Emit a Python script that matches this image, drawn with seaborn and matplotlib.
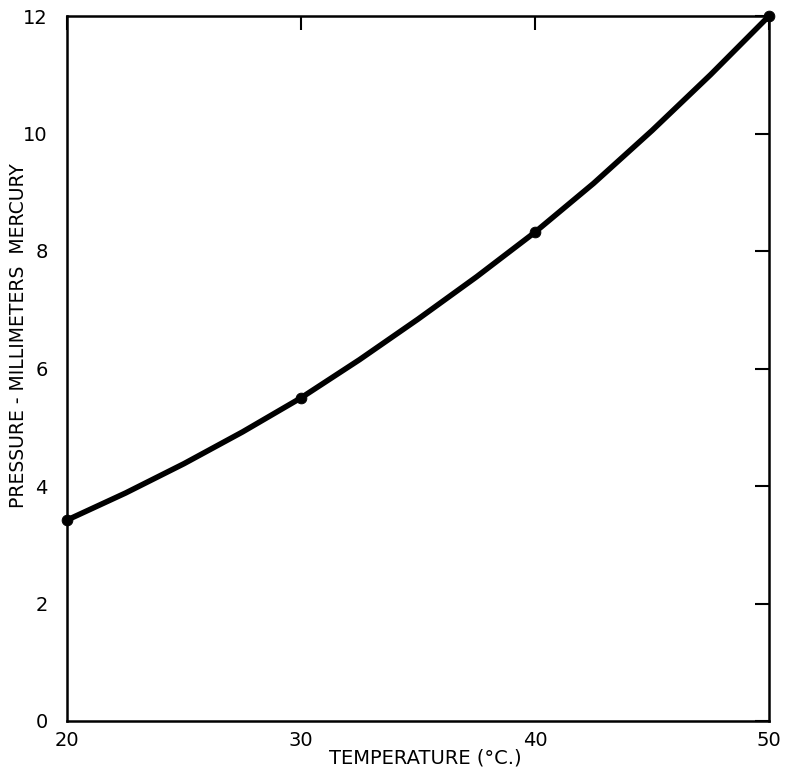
import matplotlib
matplotlib.use("Agg")
import matplotlib.pyplot as plt
import seaborn as sns
import pandas as pd

# Measured points (temperature °C, pressure mm Hg)
point_temp = [20, 30, 40, 50]
point_pressure = [3.42, 5.50, 8.32, 12.0]

# Smooth curve
curve_temp = [20, 22.5, 25, 27.5, 30, 32.5, 35, 37.5, 40, 42.5, 45, 47.5, 50]
curve_pressure = [3.42, 3.88, 4.38, 4.92, 5.50, 6.15, 6.84, 7.56, 8.32, 9.15, 10.05, 11.0, 12.0]

x_ticks = [20, 30, 40, 50]
y_ticks = [0, 2, 4, 6, 8, 10, 12]

sns.set_theme(style="white")
plt.rcParams['font.family'] = ['DejaVu Sans']

W, H = 786, 771
fig = plt.figure(figsize=(W / 100, H / 100), dpi=100)
ax = fig.add_axes([67 / W, 1 - 721 / H, (769 - 67) / W, (721 - 16) / H])

curve = pd.DataFrame({"t": curve_temp, "p": curve_pressure})
pts = pd.DataFrame({"t": point_temp, "p": point_pressure})

sns.lineplot(data=curve, x="t", y="p", ax=ax, color="black", linewidth=4.0,
             solid_capstyle="round", clip_on=False)
sns.scatterplot(data=pts, x="t", y="p", ax=ax, color="black", s=60,
                edgecolor="black", zorder=5, clip_on=False)

ax.set_xlim(20, 50)
ax.set_ylim(0, 12)
ax.set_xticks(x_ticks)
ax.set_yticks(y_ticks)
ax.set_xticklabels([str(v) for v in x_ticks])
ax.set_yticklabels([str(v) for v in y_ticks])

for s in ax.spines.values():
    s.set_color("black")
    s.set_linewidth(1.8)

ax.tick_params(axis="both", which="major", direction="in", length=10, width=1.5,
               color="black", labelsize=14, labelcolor="black",
               top=True, right=True)
ax.tick_params(axis="y", pad=14)
ax.tick_params(axis="x", pad=7)

ax.set_xlabel("")
ax.set_ylabel("")
fig.text(425 / W, 1 - 758 / H, "TEMPERATURE (°C.)", fontsize=14, color="black",
         ha="center", va="center")
fig.text(19 / W, 1 - 336 / H, "PRESSURE - MILLIMETERS  MERCURY", fontsize=13.5,
         color="black", ha="center", va="center", rotation=90)

fig.savefig("out.png", dpi=100, facecolor="white")
